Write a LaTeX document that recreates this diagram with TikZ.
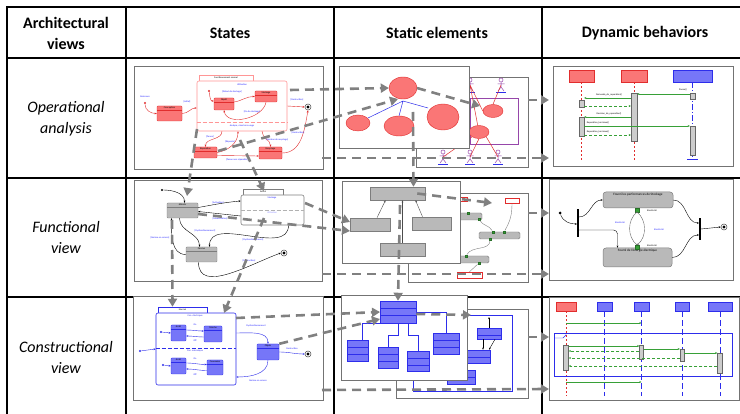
\documentclass[tikz,border=0pt]{standalone}
\usepackage{fontspec}
\setmainfont{Carlito}
\usetikzlibrary{arrows.meta,shapes.geometric,positioning}

\definecolor{stred}{RGB}{250,118,118}
\definecolor{stredline}{RGB}{225,45,45}
\definecolor{stpink}{RGB}{255,150,150}
\definecolor{stblue}{RGB}{118,118,248}
\definecolor{stblueline}{RGB}{45,45,235}
\definecolor{stgray}{RGB}{185,185,185}
\definecolor{stgrayline}{RGB}{125,125,125}
\definecolor{guardblue}{RGB}{35,35,255}
\definecolor{msggreen}{RGB}{55,160,55}
\definecolor{actorpurple}{RGB}{150,70,170}
\definecolor{linkgray}{RGB}{128,128,128}

\newcommand\headfont{\fontsize{16}{21}\selectfont}
\newcommand\thumbfont{\fontsize{2.4}{2.8}\selectfont}
\newcommand\actfont{\fontsize{3.3}{3.8}\selectfont}

\tikzset{
  cell/.style={black, line width=1.3pt},
  tableedge/.style={black, line width=2.4pt},
  thumb/.style={draw=black!55, fill=white, line width=0.9pt},
  colhead/.style={font=\headfont\bfseries, align=center},
  rowname/.style={font=\headfont\itshape, align=center},
  sname/.style={label={[anchor=north, inner sep=0.6pt, font=\thumbfont]north:#1}},
  aname/.style={label={[anchor=north, inner sep=1.2pt, font=\actfont]north:#1}},
  stbox/.style={draw=#1line, fill=#1, rounded corners=0.8pt, line width=0.4pt, inner sep=0pt,
    path picture={\draw[#1line, line width=0.3pt]
      ([yshift=-4pt]path picture bounding box.north west) -- ([yshift=-4pt]path picture bounding box.north east);}},
  comp/.style={draw=#1, fill=white, rounded corners=2pt, line width=0.6pt, inner sep=0pt},
  comptab/.style={draw=#1, fill=white, line width=0.5pt, inner sep=0pt, font=\thumbfont},
  ucase/.style={ellipse, draw=stredline, fill=stred, line width=0.4pt, inner sep=0pt},
  lhead/.style={draw=#1line, fill=#1, inner sep=0pt, line width=0.5pt},
  actbar/.style={draw=black!60, fill=black!20, minimum width=5pt, inner sep=0pt, line width=0.4pt},
  gbox/.style={draw=stgrayline, fill=stgray, inner sep=0pt, line width=0.5pt},
  gbar/.style={draw=stgrayline, fill=stgray, rounded corners=1.5pt, inner sep=0pt, line width=0.4pt},
  rbox/.style={draw=stredline, fill=white, inner sep=0pt, line width=0.5pt},
  cls/.style={draw=stblueline, fill=stblue, inner sep=0pt, line width=0.5pt,
    path picture={\draw[stblueline, line width=0.4pt]
      ([yshift=-7pt]path picture bounding box.north west) -- ([yshift=-7pt]path picture bounding box.north east)
      ([yshift=-14pt]path picture bounding box.north west) -- ([yshift=-14pt]path picture bounding box.north east);}},
  activity/.style={draw=stgrayline, fill=stgray, rounded corners=3pt, inner sep=0pt, line width=0.5pt},
  port/.style={draw=msggreen!70!black, fill=msggreen, minimum size=3.5pt, inner sep=0pt},
  guard/.style={text=guardblue, font=\thumbfont, inner sep=0.3pt},
  note/.style={font=\thumbfont, inner sep=0.3pt},
  trans/.style={-{Stealth[length=2.2pt,width=1.8pt]}, line width=0.4pt},
  initdot/.style={circle, fill, minimum size=2.4pt, inner sep=0pt},
  finalst/.style={circle, draw=black!70, fill=white, line width=0.5pt, minimum size=6pt, inner sep=0pt,
    path picture={\fill[black] (path picture bounding box.center) circle (1.7pt);}},
  msg/.style={msggreen, line width=0.5pt, -{Stealth[length=2.2pt,width=2pt]}},
  reply/.style={msg, dash pattern=on 3pt off 2pt},
  link/.style={draw=linkgray, line width=2.6pt, dash pattern=on 9pt off 6pt, -{Triangle[length=8pt,width=9pt]}}
}

\begin{document}
\begin{tikzpicture}[x=1pt, y=-1pt]
  \useasboundingbox (0,0) rectangle (740,414);

  % table
  \draw[tableedge] (7,414) -- (7,7) -- (740,7);
  \foreach \x in {126,334,542} \draw[cell] (\x,7) -- (\x,414);
  \foreach \y in {58,178,297} \draw[cell] (7,\y) -- (740,\y);
  \node[colhead] (hViews) at (66,33) {Architectural\\views};
  \node[colhead] (hStates) at (230,33) {States};
  \node[colhead] (hStatic) at (437,33) {Static elements};
  \node[colhead] (hDyn) at (645,33) {Dynamic behaviors};
  \node[rowname] (rOper) at (66,119) {Operational\\analysis};
  \node[rowname] (rFunc) at (66,238) {Functional\\view};
  \node[rowname] (rCons) at (66,358) {Constructional\\view};

  % operational analysis -- states
  \draw[thumb] (134,66) rectangle (323,169);
  \node[comptab=stpink, minimum width=54pt, minimum height=6pt] (osTab) at (226,78) {Fonctionnement normal};
  \node[comp=stpink, minimum width=90pt, minimum height=50pt] (osNorm) at (242,106) {};
  \draw[stpink, line width=0.6pt, dash pattern=on 4pt off 2pt] (osNorm.west |- 0,122) -- (osNorm.east |- 0,122);
  \node[note, text=guardblue] (osUse) at (242,85) {Utilisation};
  \node[note, text=guardblue] (osAna) at (242,126) {Analyse, mise hors usage};
  \node[initdot, stredline] (osIni1) at (145,103) {};
  \node[guard] (osNais) at (145,97) {Naissance};
  \node[stbox=stred, sname=Conception, minimum width=25pt, minimum height=15pt] (osConc) at (169.5,113.5) {};
  \node[initdot, stredline] (osIni2) at (209,91) {};
  \node[stbox=stred, sname=Dépôt, minimum width=20pt, minimum height=12pt] (osDep) at (224,104) {};
  \node[stbox=stred, sname=Stockage, minimum width=22pt, minimum height=11pt] (osSto) at (266,96.5) {};
  \node[stbox=stred, sname=Réparation, minimum width=23pt, minimum height=11pt] (osRep) at (205.5,152.5) {};
  \node[stbox=stred, sname=Recyclage, minimum width=23pt, minimum height=12pt] (osRec) at (270.5,153) {};
  \node[finalst] (osEnd) at (308,107) {};
  \draw[trans, stredline] (osIni1) to[out=-90, in=180] (osConc.west);
  \draw[trans, stredline] (osConc.east) to[out=0, in=180] ([yshift=-2pt]osNorm.west);
  \draw[trans, stredline] (osIni2) to[out=-80, in=180] ([yshift=3pt]osDep.west);
  \draw[trans, stredline] ([yshift=2pt]osDep.east) to[out=10, in=180] (osSto.west);
  \draw[trans, stredline] (osSto.south) to[out=-100, in=-80] (osDep.south);
  \draw[trans, stredline] (osNorm.east) -- (osEnd.west);
  \draw[trans, stredline] ([xshift=-20pt]osNorm.south) to[out=-90, in=90] (osRep.north);
  \draw[trans, stredline] (osRep.east) to[out=10, in=-90] ([xshift=-4pt]osNorm.south);
  \draw[trans, stredline] ([xshift=20pt]osNorm.south) to[out=-90, in=90] (osRec.north);
  \draw[trans, stredline] ([yshift=-3pt]osRep.east) -- ([yshift=-3pt]osRec.west);
  \draw[trans, stredline] (osRec.east) to[out=0, in=-100] (osEnd.south);
  \node[guard] (osG1) at (187,102) {[Initial]};
  \node[guard] (osG2) at (232,92) {[Début de stockage]};
  \node[guard] (osG3) at (252,112) {[Fin de stockage]};
  \node[guard] (osG4) at (297,100) {[Destruction]};
  \node[guard] (osG5) at (210,137) {[Panne]};
  \node[guard] (osG6) at (230,142) {[Réparée]};
  \node[guard] (osG7) at (277,140) {[Décision de recyclage]};
  \node[guard] (osG8) at (237,160) {[Panne non réparable]};
  \node[guard] (osG9) at (298,133) {[Destruction]};

  % operational analysis -- static elements
  \draw[thumb] (416,77) rectangle (528,167);
  \draw[actorpurple, line width=0.6pt] (470,98) rectangle (518,144);
  \node[ucase, minimum width=20pt, minimum height=13pt] (oeUb1) at (493,111) {};
  \node[ucase, minimum width=20pt, minimum height=13pt] (oeUb2) at (479,132) {};
  \foreach \n/\x/\y in {1/470/85, 2/501/85, 3/443/157, 4/470/157, 5/498/157} {
    \coordinate (oeAct\n) at (\x,\y);
    \draw[actorpurple, line width=0.5pt] (\x,\y-5) circle (2pt) (\x,\y-3) -- (\x,\y+2)
      (\x-3.5,\y-1) -- (\x+3.5,\y-1) (\x-3,\y+6) -- (\x,\y+2) -- (\x+3,\y+6);
    \draw[stblueline, line width=0.4pt] (\x-5,\y+7) -- (\x+5,\y+7);
  }
  \draw[stredline, line width=0.5pt] (oeAct1) -- (oeUb2) (oeAct1) -- (oeUb1.west) (oeAct2) -- (oeUb1.north)
    (oeAct3) -- (oeUb2) (oeAct4) -- (oeUb2.south) (oeAct5) -- (oeUb2.south east);
  \draw[thumb] (339,66) rectangle (469,148);
  \draw[stblueline, line width=0.5pt] (403,101) -- (368,118) (403,101) -- (399,116) (403,101) -- (428,108);
  \node[ucase, minimum width=28pt, minimum height=22pt] (oeUf1) at (403,88) {};
  \node[ucase, minimum width=24pt, minimum height=16pt] (oeUf2) at (358,123) {};
  \node[ucase, minimum width=30pt, minimum height=20pt] (oeUf3) at (399,126) {};
  \node[ucase, minimum width=32pt, minimum height=26pt] (oeUf4) at (443,117) {};

  % operational analysis -- dynamic behaviors
  \draw[thumb] (553,66) rectangle (733,166);
  \node[lhead=stred, minimum width=25pt, minimum height=12pt] (odL1) at (581.5,76) {};
  \node[lhead=stred, minimum width=26pt, minimum height=12pt] (odL2) at (634,76) {};
  \node[lhead=stblue, minimum width=39pt, minimum height=12pt] (odL3) at (692.5,76) {};
  \draw[stredline, dash pattern=on 2pt off 2pt, line width=0.8pt] (odL1.south) -- (odL1 |- 0,160);
  \draw[stredline, dash pattern=on 2pt off 2pt, line width=0.8pt] (odL2.south) -- (odL2 |- 0,160);
  \draw[stblueline, dash pattern=on 6pt off 2pt on 1pt off 2pt, line width=0.6pt] (odL3.south) -- (odL3 |- 0,159);
  \draw[stblueline, line width=0.6pt] (687,159) -- (698,159);
  \node[actbar, minimum height=7pt] (odB11) at (581.5,103.5) {};
  \node[actbar, minimum height=19pt] (odB12) at (581.5,126.5) {};
  \node[actbar, minimum height=48pt, minimum width=6pt] (odB2) at (634,117) {};
  \node[actbar, minimum height=6pt] (odB31) at (692.5,96) {};
  \node[actbar, minimum height=29pt] (odB32) at (692.5,140.5) {};
  \draw[msg] (odB31.west |- 0,94) -- (odB2.east |- 0,94);
  \draw[msg] (odB2.west |- 0,98) -- (odB11.east |- 0,98);
  \draw[reply] (odB11.east |- 0,106) -- (odB2.west |- 0,106);
  \draw[msg] (odB2.west |- 0,117) -- (odB12.east |- 0,117);
  \draw[msg] (odB12.east |- 0,126) -- (odB32.west |- 0,126);
  \draw[reply] (odB12.east |- 0,135) -- (odB2.west |- 0,135);
  \node[note] (odM1) at (683,90) {Panne()};
  \node[note] (odM2) at (609,95) {Demande\_de\_reparation()};
  \node[note] (odM3) at (609,114) {Decision\_de\_reparation()};
  \node[note] (odM4) at (598,123) {Reparation\_terminee()};
  \node[note] (odM5) at (598,132) {Reparation\_terminee()};

  % functional view -- states
  \draw[thumb] (134,180) rectangle (322,281);
  \node[initdot] (fsIni) at (162,190) {};
  \node[stbox=stgray, sname=Attente, minimum width=31pt, minimum height=15pt] (fsAtt) at (182.5,210.5) {};
  \node[comptab=stgrayline, minimum width=40pt, minimum height=6pt] (fsTab) at (263,192) {Activé};
  \node[comp=stgrayline, minimum width=63pt, minimum height=30pt] (fsAct) at (272.5,210) {};
  \draw[stgrayline!60, dash pattern=on 4pt off 2pt, line width=0.5pt] (fsAct.west |- 0,210) -- (fsAct.east |- 0,210);
  \node[note, text=guardblue] (fsSto) at (272,198) {Stockage};
  \node[note, text=guardblue!50] (fsUti) at (272,213) {Utilisation};
  \node[stbox=stgray, sname=Passive, minimum width=31pt, minimum height=15pt] (fsPas) at (201.5,254.5) {};
  \node[finalst] (fsEnd) at (284,253) {};
  \draw[trans] (fsIni) to[out=0, in=90] ([xshift=2pt]fsAtt.north);
  \draw[trans] ([yshift=3pt]fsAtt.east) to[out=10, in=185] ([yshift=9pt]fsAct.west);
  \draw[trans] ([yshift=-6pt]fsAct.west) -- ([yshift=-1pt]fsAtt.east);
  \draw[trans] ([xshift=-3pt]fsAtt.south) to[out=-90, in=90] ([xshift=-2pt]fsPas.north);
  \draw[trans] ([xshift=16pt]fsAct.south) to[out=-90, in=90] ([xshift=8pt]fsPas.north);
  \draw[trans] (fsPas.west) to[out=180, in=-90] ([xshift=-11pt]fsAtt.south);
  \draw[trans] ([xshift=-3pt]fsPas.south) to[out=-90, in=200] (fsEnd.west);
  \node[guard] (fsG1) at (218,203) {[Activation]};
  \node[guard] (fsG2) at (220,219) {[Désactivation]};
  \node[guard] (fsG3) at (205,231) {[Dysfonctionnement]};
  \node[guard] (fsG4) at (253,240) {[Dysfonctionnement]};
  \node[guard] (fsG5) at (160,238) {[Remise en service]};
  \node[guard] (fsG6) at (249,261) {[Destruction]};

  % functional view -- static elements
  \draw[thumb] (408,193) rectangle (528,282);
  \node[gbar, minimum width=42pt, minimum height=7pt] (feB1) at (461,216.5) {};
  \node[gbar, minimum width=41pt, minimum height=7pt] (feB2) at (499.5,235.5) {};
  \node[gbar, minimum width=49pt, minimum height=7pt] (feB3) at (464.5,259.5) {};
  \node[rbox, minimum width=14pt, minimum height=5pt] (feR1) at (512,201) {};
  \node[rbox, minimum width=25pt, minimum height=6pt] (feR2) at (469.5,275) {};
  \node[rbox, minimum width=7pt, minimum height=4pt] (feR3) at (463.5,199) {};
  \foreach \n/\x/\y in {1/468/213, 2/479/219, 3/493/232, 4/504/232, 5/490/239, 6/466/256, 7/479/263}
    \node[port, minimum size=2.5pt] (feP\n) at (\x,\y) {};
  \draw[black!50, line width=0.4pt] (feP2) to[out=-60, in=120] (feP3) (feR1.south) to[out=-90, in=60] (feP4)
    (feP5) to[out=-90, in=60] (feP6) (feP7) -- (feR2.north);
  \draw[thumb] (342,181) rectangle (460,263);
  \node[gbox, minimum width=55pt, minimum height=13pt] (feTop) at (397.5,193.5) {};
  \node[gbox, minimum width=40pt, minimum height=13pt] (feLeft) at (370,224.5) {};
  \node[gbox, minimum width=39pt, minimum height=13pt] (feRight) at (431.5,223.5) {};
  \node[gbox, minimum width=45pt, minimum height=13pt] (feBot) at (402.5,249.5) {};
  \draw[trans, black!70] ([xshift=7pt]feLeft.north) -- ([xshift=-12pt]feTop.south);
  \draw[trans, black!70] ([xshift=-9pt]feRight.north) -- ([xshift=18pt]feTop.south);
  \draw[trans, black!70] (feBot.north) -- ([xshift=5pt]feTop.south);

  % functional view -- dynamic behaviors
  \draw[thumb] (549,179) rectangle (733,280);
  \node[activity, aname=Fourni les performances de Stockage, minimum width=70pt, minimum height=16pt] (fdPerf) at (638,200) {};
  \node[activity, aname=Fourni de l'énergie électrique, minimum width=69pt, minimum height=19pt] (fdEner) at (637.5,257.5) {};
  \node[fill=black, minimum width=1.6pt, minimum height=28pt, inner sep=0pt] (fdFork) at (578,223) {};
  \node[fill=black, minimum width=1.6pt, minimum height=22pt, inner sep=0pt] (fdJoin) at (700,229) {};
  \node[initdot, minimum size=3pt] (fdIni) at (560,213) {};
  \node[finalst] (fdEnd) at (724,227) {};
  \node[port] (fdP1) at (637,210) {};
  \node[port] (fdP2) at (637,247) {};
  \node[note] (fdL1) at (652,211) {Electricité};
  \node[note] (fdL2) at (652,246) {Electricité};
  \node[guard] (fdL3) at (620,223) {Electricité};
  \node[guard] (fdL4) at (659,230) {Electricité};
  \draw[trans] (fdIni) to[out=-70, in=180] ([yshift=-1pt]fdFork.west);
  \draw[trans] ([yshift=6pt]fdFork.east) to[out=0, in=180] (fdPerf.west);
  \draw[trans, rounded corners=4pt] ([yshift=-7pt]fdFork.east) -| ([xshift=-20pt]fdEner.north);
  \draw[trans] (fdPerf.east) to[out=0, in=180] ([yshift=6pt]fdJoin.west);
  \draw[trans] (fdEner.east) to[out=0, in=180] ([yshift=-6pt]fdJoin.west);
  \draw[trans] (fdJoin.east) -- (fdEnd.west);
  \draw[black!60, line width=0.4pt] (fdP1.south) to[out=-140, in=140] (fdP2.north);
  \draw[trans, black!60] (fdP1.south) to[out=-40, in=40] (fdP2.north);

  % constructional view -- states
  \draw[thumb] (133,296) rectangle (323,400);
  \node[comptab=stblueline, minimum width=49pt, minimum height=6pt] (csTab) at (182.5,310) {Normal};
  \node[comp=stblueline, minimum width=80pt, minimum height=72pt] (csNorm) at (196,349) {};
  \draw[stblueline, dash pattern=on 4pt off 2pt, line width=0.6pt] (csNorm.west |- 0,348) -- (csNorm.east |- 0,348);
  \node[note, text=stblueline] (csR1) at (195,316) {Con. électrique};
  \node[note, text=stblueline] (csR2) at (195,351) {Con. mécanique};
  \node[stbox=stblue, sname=Arrêt, minimum width=15pt, minimum height=16pt] (csOff1) at (178.5,333) {};
  \node[stbox=stblue, sname=Marche, minimum width=18pt, minimum height=16pt] (csOn1) at (213,334) {};
  \node[stbox=stblue, sname=Arrêt, minimum width=15pt, minimum height=16pt] (csOff2) at (178.5,366) {};
  \node[stbox=stblue, sname=Connexion, minimum width=16pt, minimum height=15pt] (csOn2) at (215,367.5) {};
  \node[initdot, stblueline] (csIni1) at (161,332) {};
  \node[initdot, stblueline] (csIni2) at (163,365) {};
  \node[initdot, stblueline] (csIni0) at (140,351) {};
  \draw[trans, stblueline] (csIni1) -- (csOff1.west);
  \draw[trans, stblueline] (csIni2) -- (csOff2.west);
  \draw[trans, stblueline] (csIni0) -- (csNorm.west);
  \draw[trans, stblueline] ([yshift=3pt]csOff1.east) to[out=0, in=180] ([yshift=3pt]csOn1.west);
  \draw[trans, stblueline] ([yshift=-3pt]csOn1.west) to[out=180, in=0] ([yshift=-3pt]csOff1.east);
  \draw[trans, stblueline] ([yshift=3pt]csOff2.east) to[out=0, in=180] ([yshift=3pt]csOn2.west);
  \draw[trans, stblueline] ([yshift=-3pt]csOn2.west) to[out=180, in=0] ([yshift=-3pt]csOff2.east);
  \node[guard] (csG1) at (195,325) {On};
  \node[guard] (csG2) at (195,341) {Off};
  \node[guard] (csG3) at (195,359) {On};
  \node[guard] (csG4) at (195,375) {Off};
  \node[stbox=stblue, sname=Objets, minimum width=22pt, minimum height=16pt] (csObj) at (268,352) {};
  \node[finalst] (csEnd) at (308,354) {};
  \draw[trans, stblueline] (csNorm.east |- 0,333) to[out=0, in=90] (csObj.north);
  \draw[trans, stblueline] (csObj.east) to[out=0, in=180] (csEnd.west);
  \draw[trans, stblueline] (csObj.south) to[out=-90, in=0] (csNorm.east |- 0,377);
  \node[guard] (csG5) at (256,326) {Dysfonctionnement};
  \node[guard] (csG6) at (292,349) {Destruction};
  \node[guard] (csG7) at (258,381) {Remise en service};

  % constructional view -- static elements
  \draw[thumb] (396,309) rectangle (528,398);
  \draw[stblueline, line width=0.6pt] (413,315) rectangle (512,391);
  \node[cls, minimum width=24pt, minimum height=11pt] (ceB1) at (489,333.5) {};
  \node[cls, minimum width=28pt, minimum height=13pt] (ceB2) at (476,356.5) {};
  \node[cls, minimum width=28pt, minimum height=14pt] (ceB3) at (461,377) {};
  \draw[trans] ([xshift=-6pt]ceB1.south) -- ([xshift=7pt]ceB2.north);
  \draw[trans] ([xshift=6pt]ceB1.south) -- ([xshift=13pt]ceB2.north);
  \draw[trans] (ceB1.north) -- (ceB1 |- 0,317);
  \draw[thumb] (341,295) rectangle (467,380);
  \node[cls, minimum width=36pt, minimum height=22pt] (ceTop) at (398,312) {};
  \node[cls, minimum width=21pt, minimum height=21pt] (ceA) at (357.5,350.5) {};
  \node[cls, minimum width=20pt, minimum height=21pt] (ceB) at (388,357.5) {};
  \node[cls, minimum width=22pt, minimum height=20pt] (ceC) at (418,361) {};
  \node[cls, minimum width=26pt, minimum height=21pt] (ceD) at (446,343.5) {};
  \draw[stblueline, line width=0.6pt] (ceTop.south west) -| ([xshift=5pt]ceA.north);
  \draw[stblueline, line width=0.6pt] (ceTop.south) -- ++(0,12) -| (ceB.north);
  \draw[stblueline, line width=0.6pt] ([xshift=10pt]ceTop.south) -- ++(0,12) -| (ceC.north);
  \draw[stblueline, line width=0.6pt] (ceTop.east) -| (ceD.north);

  % constructional view -- dynamic behaviors
  \draw[thumb] (549,297) rectangle (739,400);
  \node[lhead=stred, minimum width=20pt, minimum height=9pt] (cdL1) at (566,306.5) {};
  \node[lhead=stblue, minimum width=15pt, minimum height=9pt] (cdL2) at (604.5,306.5) {};
  \node[lhead=stblue, minimum width=15pt, minimum height=9pt] (cdL3) at (641.5,306.5) {};
  \node[lhead=stblue, minimum width=14pt, minimum height=9pt] (cdL4) at (682,306.5) {};
  \node[lhead=stblue, minimum width=24pt, minimum height=9pt] (cdL5) at (720,306.5) {};
  \draw[stredline, dash pattern=on 2pt off 2pt, line width=0.8pt] (cdL1.south) -- (cdL1 |- 0,396);
  \foreach \n in {2,...,5}
    \draw[stblueline, dash pattern=on 6pt off 3pt, line width=0.6pt] (cdL\n.south) -- (cdL\n |- 0,396);
  \draw[stblueline, line width=0.6pt] (554,333) rectangle (732,376);
  \draw[stblueline, line width=0.4pt] (554,338) -- (563,338) -- (566,335) -- (566,333);
  \node[actbar, minimum height=25pt] (cdB1) at (566,357.5) {};
  \node[actbar, minimum height=14pt, minimum width=4pt] (cdB3) at (641.5,352) {};
  \node[actbar, minimum height=12pt, minimum width=4pt] (cdB4) at (682,355) {};
  \node[actbar, minimum height=20pt] (cdB5) at (720,363) {};
  \draw[msg] (cdL1 |- 0,323) -- (cdL3 |- 0,323);
  \draw[msg] (cdB1.east |- 0,346) -- (cdB3.west |- 0,346);
  \draw[msg] (cdB3.east |- 0,349) -- (cdB4.west |- 0,349);
  \draw[msg] (cdB4.east |- 0,353) -- (cdB5.west |- 0,353);
  \draw[reply] (cdB3.west |- 0,351) -- (cdB1.east |- 0,351);
  \draw[reply] (cdB4.west |- 0,358) -- (cdB1.east |- 0,358);
  \draw[reply] (cdB5.west |- 0,366) -- (cdB1.east |- 0,366);
  \draw[msg] (cdL1 |- 0,382) -- (cdL3 |- 0,382);

  % links between the views
  \coordinate (lkA1) at (290,90);
  \coordinate (lkA2s) at (218,151);   \coordinate (lkA2e) at (398,99);
  \coordinate (lkA3s) at (197,129);   \coordinate (lkA3e) at (187,196);
  \coordinate (lkA4s) at (240,140);   \coordinate (lkA4e) at (264,191);
  \coordinate (lkA5s) at (322,158);   \coordinate (lkA5e) at (549,158);
  \coordinate (lkA6s) at (413,112);
  \coordinate (lkA7s) at (528,100);   \coordinate (lkA7e) at (549,100);
  \coordinate (lkA8s) at (417,88);    \coordinate (lkA8e) at (480,106);
  \draw[link] (lkA1) -- (oeUf1.west);
  \draw[link] (lkA2s) -- (lkA2e);
  \draw[link] (lkA3s) -- (lkA3e);
  \draw[link] (lkA4s) -- (lkA4e);
  \draw[link] (lkA5s) -- (lkA5e);
  \draw[link] (lkA6s) -- ([xshift=16pt]feTop.north);
  \draw[link] (lkA7s) -- (lkA7e);
  \draw[link] (lkA8s) -- (lkA8e);
  \coordinate (lkB1s) at (305,203);   \coordinate (lkB1e) at (350,222);
  \coordinate (lkB2s) at (198,214);   \coordinate (lkB2e) at (350,231);
  \coordinate (lkB3s) at (172,220);
  \coordinate (lkB4s) at (264,218);   \coordinate (lkB4e) at (224,313);
  \coordinate (lkB5s) at (322,274);   \coordinate (lkB5e) at (549,274);
  \coordinate (lkB6e) at (492,203);
  \coordinate (lkB7s) at (528,213);   \coordinate (lkB7e) at (549,213);
  \coordinate (lkB8s) at (400,205);
  \draw[link] (lkB1s) -- (lkB1e);
  \draw[link] (lkB2s) -- (lkB2e);
  \draw[link] (lkB3s) -- ([xshift=-10pt]csTab.north);
  \draw[link] (lkB4s) -- (lkB4e);
  \draw[link] (lkB5s) -- (lkB5e);
  \draw[link] ([xshift=-8pt]feTop.east) -- (lkB6e);
  \draw[link] (lkB7s) -- (lkB7e);
  \draw[link] (lkB8s) -- (ceTop.north);
  \coordinate (lkC1s) at (236,318);   \coordinate (lkC1e) at (380,312);
  \coordinate (lkC2e) at (380,319);
  \coordinate (lkC3s) at (322,390);   \coordinate (lkC3e) at (549,389);
  \coordinate (lkC4e) at (471,315);
  \coordinate (lkC5s) at (528,337);   \coordinate (lkC5e) at (549,337);
  \draw[link] (lkC1s) -- (lkC1e);
  \draw[link] (csObj.north east) -- (lkC2e);
  \draw[link] (lkC3s) -- (lkC3e);
  \draw[link] ([yshift=-2pt]ceTop.east) -- (lkC4e);
  \draw[link] (lkC5s) -- (lkC5e);
\end{tikzpicture}
\end{document}
